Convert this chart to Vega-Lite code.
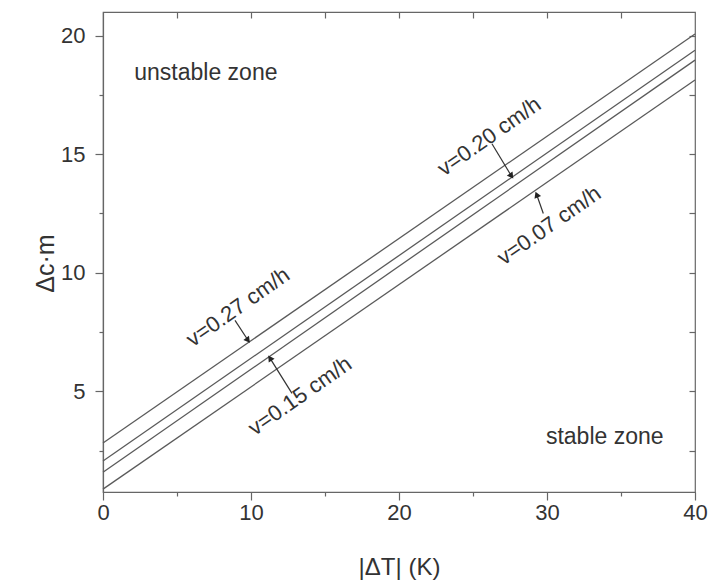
{
  "$schema": "https://vega.github.io/schema/vega-lite/v6.json",
  "width": 592,
  "height": 480,
  "autosize": {"type": "none"},
  "padding": {"left": 103, "top": 12, "right": 16, "bottom": 92},
  "background": "white",
  "config": {
    "view": {"stroke": "#666", "strokeWidth": 1.2},
    "font": "Liberation Sans",
    "axis": {
      "grid": false,
      "labelFont": "Liberation Sans",
      "labelFontSize": 22,
      "labelColor": "#333",
      "titleFont": "Liberation Sans",
      "titleFontSize": 24,
      "titleFontWeight": "normal",
      "titleColor": "#333",
      "domainColor": "#666",
      "domainWidth": 1.2,
      "tickColor": "#666",
      "tickWidth": 1.2
    }
  },
  "resolve": {"axis": {"x": "independent", "y": "independent"}},
  "datasets": {
    "lines": [
      {"v": "0.27", "dT": 0, "dcm": 2.82},
      {"v": "0.27", "dT": 40, "dcm": 20.07},
      {"v": "0.20", "dT": 0, "dcm": 2.06},
      {"v": "0.20", "dT": 40, "dcm": 19.39},
      {"v": "0.15", "dT": 0, "dcm": 1.58},
      {"v": "0.15", "dT": 40, "dcm": 18.97},
      {"v": "0.07", "dT": 0, "dcm": 0.87},
      {"v": "0.07", "dT": 40, "dcm": 18.13}
    ],
    "labels": [
      {"text": "v=0.27 cm/h", "dT": 9.12, "dcm": 8.55},
      {"text": "v=0.15 cm/h", "dT": 13.31, "dcm": 4.8},
      {"text": "v=0.20 cm/h", "dT": 26.1, "dcm": 15.75},
      {"text": "v=0.07 cm/h", "dT": 30.14, "dcm": 11.99}
    ],
    "arrows": [
      {"v": "0.27", "dT": 8.92, "dcm": 7.99, "dT2": 9.8, "dcm2": 7.15, "dir": 142},
      {"v": "0.15", "dT": 12.77, "dcm": 4.91, "dT2": 11.28, "dcm2": 6.4, "dir": 326},
      {"v": "0.20", "dT": 26.28, "dcm": 15.44, "dT2": 27.6, "dcm2": 14.08, "dir": 144},
      {"v": "0.07", "dT": 29.75, "dcm": 12.5, "dT2": 29.3, "dcm2": 13.3, "dir": 338}
    ],
    "zones": [
      {"text": "unstable zone", "dT": 6.95, "dcm": 18.44},
      {"text": "stable zone", "dT": 33.9, "dcm": 3.06}
    ]
  },
  "layer": [
    {
      "data": {"name": "lines"},
      "mark": {"type": "line", "color": "#5a5a5a", "strokeWidth": 1.3},
      "encoding": {
        "x": {
          "field": "dT", "type": "quantitative",
          "scale": {"domain": [0, 40], "nice": false, "zero": false},
          "axis": {
            "orient": "bottom",
            "title": "|ΔT| (K)",
            "values": [0, 5, 10, 15, 20, 25, 30, 35, 40],
            "labelExpr": "datum.value % 10 === 0 ? datum.label : ''",
            "tickSize": {"condition": {"test": "datum.value % 10 === 0", "value": 8}, "value": 4},
            "labelPadding": 2,
            "titleX": 296,
            "titleY": 75,
            "titleAlign": "center",
            "titleBaseline": "middle",
            "labelFlush": false
          }
        },
        "y": {
          "field": "dcm", "type": "quantitative",
          "scale": {"domain": [0.75, 21], "nice": false, "zero": false},
          "axis": {
            "orient": "left",
            "title": "Δc·m",
            "values": [2.5, 5, 7.5, 10, 12.5, 15, 17.5, 20],
            "labelExpr": "datum.value % 5 === 0 ? datum.label : ''",
            "tickSize": {"condition": {"test": "datum.value % 5 === 0", "value": 8}, "value": 4},
            "labelPadding": 10,
            "titleX": -58,
            "titleY": 251,
            "titleAngle": -90,
            "titleFontSize": 25,
            "titleAlign": "center",
            "titleBaseline": "middle",
            "labelFlush": false
          }
        },
        "detail": {"field": "v", "type": "nominal"}
      }
    },
    {
      "data": {"name": "arrows"},
      "mark": {"type": "rule", "color": "#333", "strokeWidth": 1.2},
      "encoding": {
        "x": {"field": "dT", "type": "quantitative", "axis": null},
        "y": {"field": "dcm", "type": "quantitative", "axis": null},
        "x2": {"field": "dT2"},
        "y2": {"field": "dcm2"}
      }
    },
    {
      "data": {"name": "arrows"},
      "mark": {"type": "point", "shape": "triangle-up", "filled": true, "color": "#222", "size": 50, "opacity": 1},
      "encoding": {
        "x": {"field": "dT2", "type": "quantitative", "axis": null},
        "y": {"field": "dcm2", "type": "quantitative", "axis": null},
        "angle": {"field": "dir", "type": "quantitative", "scale": null}
      }
    },
    {
      "data": {"name": "labels"},
      "mark": {"type": "text", "fontSize": 22, "angle": -35, "color": "#333", "align": "center", "baseline": "middle", "font": "Liberation Sans"},
      "encoding": {
        "x": {"field": "dT", "type": "quantitative", "axis": null},
        "y": {"field": "dcm", "type": "quantitative", "axis": null},
        "text": {"field": "text"}
      }
    },
    {
      "data": {"name": "zones"},
      "mark": {"type": "text", "fontSize": 23, "color": "#333", "align": "center", "baseline": "middle", "font": "Liberation Sans"},
      "encoding": {
        "x": {
          "field": "dT", "type": "quantitative",
          "axis": {
            "orient": "top", "title": null, "labels": false, "domain": false,
            "values": [5, 10, 15, 20, 25, 30, 35],
            "tickSize": 6,
            "offset": -6
          }
        },
        "y": {
          "field": "dcm", "type": "quantitative",
          "axis": {
            "orient": "right", "title": null, "labels": false, "domain": false,
            "values": [2.5, 5, 7.5, 10, 12.5, 15, 17.5, 20],
            "tickSize": 6,
            "offset": -6
          }
        },
        "text": {"field": "text"}
      }
    }
  ]
}
